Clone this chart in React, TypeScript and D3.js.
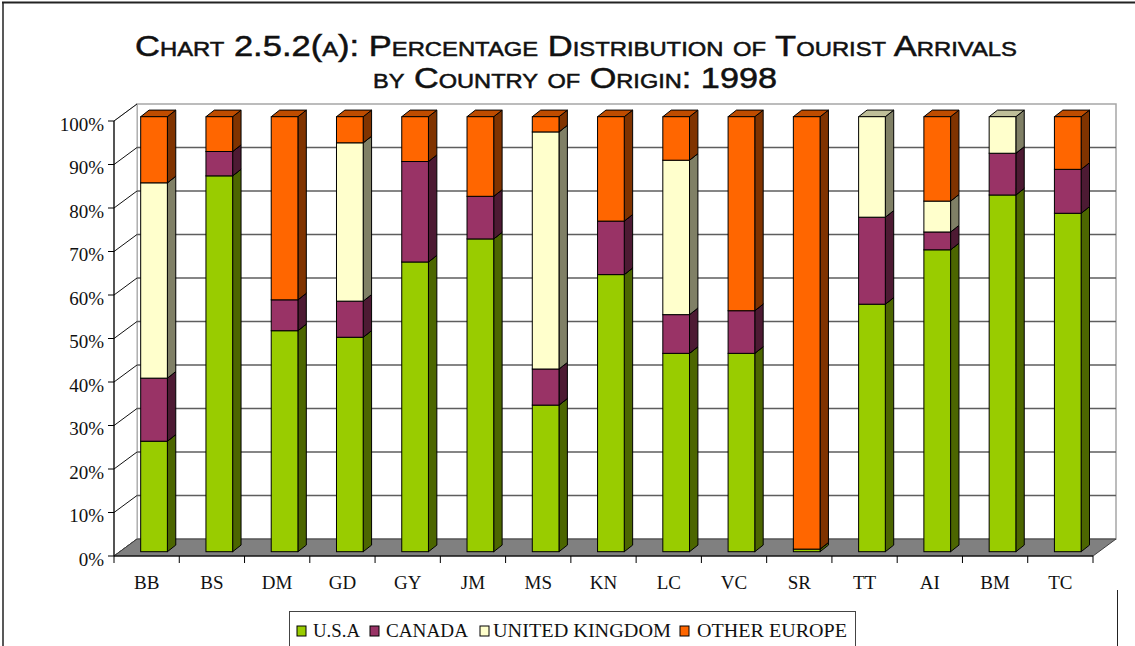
import React from "react";
import * as d3 from "d3";

// Tourist arrivals by country of origin, 1998 (percent of each destination's total)
const categories = ["BB", "BS", "DM", "GD", "GY", "JM", "MS", "KN", "LC", "VC", "SR", "TT", "AI", "BM", "TC"];
const usa = [25.4, 86.4, 50.8, 49.3, 66.6, 71.9, 33.7, 63.7, 45.6, 45.6, 0.6, 56.9, 69.4, 82.0, 77.8];
const canada = [14.5, 5.6, 7.1, 8.3, 23.1, 9.8, 8.3, 12.3, 8.9, 9.8, 0, 20.0, 4.1, 9.6, 10.1];
const unitedKingdom = [44.9, 0, 0, 36.4, 0, 0, 54.5, 0, 35.5, 0, 0, 23.1, 7.1, 8.4, 0];
const otherEurope = [15.2, 8.0, 42.1, 6.0, 10.3, 18.3, 3.5, 24.0, 10.0, 44.6, 99.4, 0, 19.4, 0, 12.1];
const yTicks = [0, 10, 20, 30, 40, 50, 60, 70, 80, 90, 100];

const seriesKeys = ["usa", "canada", "uk", "other"];
const seriesNames = ["U.S.A", "CANADA", "UNITED KINGDOM", "OTHER EUROPE"];
const faceColors = ["#99CC00", "#993366", "#FFFFCC", "#FF6600"];
const sideColors = ["#4C6600", "#4D1A33", "#808066", "#803300"];
const topColors = ["#73990A", "#732650", "#BFBF99", "#BF4C00"];

// legend layout
const legendSwatchX = [297, 370, 480, 680];
const legendTextX = [313, 386, 493, 697];
const legendTextW = [47, 82, 178, 150];

export default function App() {
  const W = 1135;
  const H = 646;
  const x0 = 114;
  const x1 = 1093;
  const yBottom = 556;
  const yTop = 121;
  // wall depth offset
  const wdx = 23;
  const wdy = -17;
  // bar placement within depth
  const bdx = 7.4;
  const bdy = -4.3;
  const sdx = 8.4;
  const sdy = -6.6;

  const x = d3.scaleBand<string>().domain(categories).range([x0, x1]).padding(0);
  const y = d3.scaleLinear().domain([0, 100]).range([yBottom, yTop]);
  const bw = x.bandwidth() * 0.409;

  const table = categories.map((c, i) => ({
    cat: c,
    usa: usa[i],
    canada: canada[i],
    uk: unitedKingdom[i],
    other: otherEurope[i],
  }));
  const stacked = d3.stack<any>().keys(seriesKeys)(table);

  const bars: React.ReactNode[] = [];
  categories.forEach((c, ci) => {
    const left = (x(c) as number) + (x.bandwidth() - bw) / 2 + bdx;
    stacked.forEach((s, si) => {
      const [v0, v1] = s[ci];
      if (v1 - v0 <= 0) return;
      const yb = y(v0) + bdy;
      const yt = y(v1) + bdy;
      const r = left + bw;
      const side = `M${r},${yt} L${r + sdx},${yt + sdy} L${r + sdx},${yb + sdy} L${r},${yb} Z`;
      const top = `M${left},${yt} L${left + sdx},${yt + sdy} L${r + sdx},${yt + sdy} L${r},${yt} Z`;
      bars.push(
        <g key={`${c}-${si}`}>
          <path d={side} fill={sideColors[si]} stroke="#000" strokeWidth={1} strokeLinejoin="round" />
          <path d={top} fill={topColors[si]} stroke="#000" strokeWidth={1} strokeLinejoin="round" />
          <rect x={left} y={yt} width={bw} height={yb - yt} fill={faceColors[si]} stroke="#000" strokeWidth={1} />
        </g>
      );
    });
  });

  const backL = x0 + wdx;
  const backR = x1 + wdx;
  const backTop = y(100) + wdy;
  const backBottom = y(0) + wdy;

  return (
    <svg
      width={W}
      height={H}
      style={{ position: "fixed", left: 0, top: 0, background: "#fff" }}
      fontFamily="'Liberation Serif', 'Times New Roman', serif"
    >
      {/* outer frame */}
      <line x1={2} y1={2.5} x2={W} y2={2.5} stroke="#222" strokeWidth={2} />
      <line x1={3} y1={2} x2={3} y2={H} stroke="#222" strokeWidth={1.5} />
      <line x1={1117.5} y1={590} x2={1117.5} y2={H} stroke="#222" strokeWidth={1} />

      {/* title */}
      <g
        fontFamily="'Liberation Sans Narrow', 'Liberation Sans', sans-serif"
        fill="#111"
        stroke="#111"
        strokeWidth={0.5}
        textAnchor="middle"
      >
        <text x={576} y={55.5} fontSize={29} style={{ fontVariant: "small-caps" }} textLength={882} lengthAdjust="spacingAndGlyphs">
          Chart 2.5.2(a): Percentage Distribution of Tourist Arrivals
        </text>
        <text x={575} y={88} fontSize={29} style={{ fontVariant: "small-caps" }} textLength={404} lengthAdjust="spacingAndGlyphs">
          by Country of Origin: 1998
        </text>
      </g>

      {/* back wall */}
      <rect x={backL} y={backTop} width={backR - backL} height={backBottom - backTop} fill="#fff" stroke="#a6a6a6" strokeWidth={1.5} />
      {/* left wall */}
      <path d={`M${x0},${y(100)} L${backL},${backTop} L${backL},${backBottom} L${x0},${y(0)} Z`} fill="#fff" stroke="#a6a6a6" strokeWidth={1} />

      {/* gridlines */}
      {yTicks.map((t) => (
        <g key={`g${t}`}>
          {t > 0 && t < 100 && (
            <line x1={backL} y1={y(t) + wdy} x2={backR} y2={y(t) + wdy} stroke="#5e5e5e" strokeWidth={1.7} />
          )}
          <line x1={x0} y1={y(t)} x2={backL} y2={y(t) + wdy} stroke="#111" strokeWidth={1} />
        </g>
      ))}

      {/* floor */}
      <path
        d={`M${x0},${y(0)} L${x1},${y(0)} L${backR},${backBottom} L${backL},${backBottom} Z`}
        fill="#808080"
        stroke="#404040"
        strokeWidth={1}
      />

      {bars}

      {/* value axis */}
      <line x1={x0} y1={y(0)} x2={x0} y2={y(100)} stroke="#000" strokeWidth={1.2} />
      {yTicks.map((t) => (
        <g key={`t${t}`}>
          <line x1={x0 - 6} y1={y(t)} x2={x0} y2={y(t)} stroke="#000" strokeWidth={1} />
          <text x={104} y={y(t) + 9.5} fontSize={19} textAnchor="end" fill="#111">
            {`${t}%`}
          </text>
        </g>
      ))}

      {/* category axis */}
      <line x1={x0} y1={y(0)} x2={x1} y2={y(0)} stroke="#000" strokeWidth={1.2} />
      {[...categories.map((c) => x(c) as number), x1].map((px, i) => (
        <line key={`ct${i}`} x1={px} y1={y(0)} x2={px} y2={y(0) + 7} stroke="#000" strokeWidth={1} />
      ))}
      {categories.map((c) => (
        <text key={`cl${c}`} x={(x(c) as number) + x.bandwidth() / 2} y={589} fontSize={19} textAnchor="middle" fill="#111">
          {c}
        </text>
      ))}

      {/* legend */}
      <rect x={289.5} y={611.5} width={566} height={45} fill="#fff" stroke="#444" strokeWidth={1} />
      {seriesNames.map((n, i) => (
        <g key={`lg${n}`}>
          <rect x={legendSwatchX[i]} y={626} width={9} height={10} fill={faceColors[i]} stroke="#000" strokeWidth={1} />
          <text x={legendTextX[i]} y={637} fontSize={18} fill="#111" textLength={legendTextW[i]} lengthAdjust="spacingAndGlyphs">
            {n}
          </text>
        </g>
      ))}
    </svg>
  );
}
